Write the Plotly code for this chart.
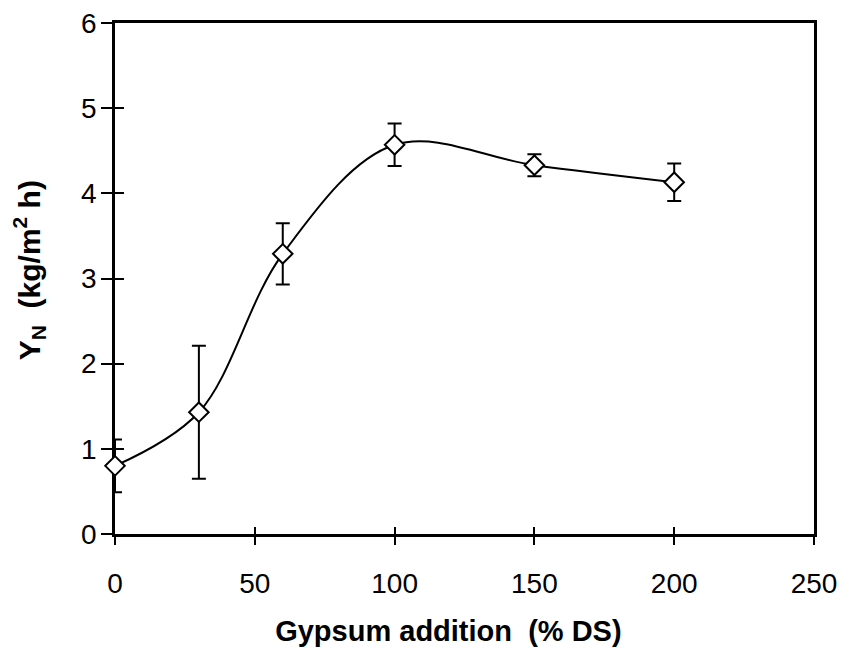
import plotly.graph_objects as go

gypsum = [0, 30, 60, 100, 150, 200]
yn = [0.80, 1.43, 3.29, 4.57, 4.33, 4.13]
yn_err = [0.31, 0.78, 0.36, 0.25, 0.13, 0.22]

x_ticks = [0, 50, 100, 150, 200, 250]
y_ticks = [0, 1, 2, 3, 4, 5, 6]

FONT = "Liberation Sans, Arial, sans-serif"
NB = "\u00a0"

fig = go.Figure()

fig.add_trace(go.Scatter(
    x=gypsum, y=yn,
    mode="lines+markers",
    line=dict(color="black", width=2, shape="spline", smoothing=1),
    marker=dict(symbol="diamond", size=15, color="white",
                line=dict(color="black", width=2)),
    error_y=dict(type="data", array=yn_err, visible=True,
                 color="black", thickness=2, width=7),
    cliponaxis=False,
    showlegend=False,
    hoverinfo="x+y",
))

# invisible trace creating an overlay subplot for the inner half of the crossing ticks
fig.add_trace(go.Scatter(
    x=gypsum, y=yn, xaxis="x2", yaxis="y2",
    mode="markers", marker=dict(opacity=0),
    showlegend=False, hoverinfo="skip",
))

axis_common = dict(showgrid=False, zeroline=False)

fig.update_layout(
    width=838, height=646,
    margin=dict(l=107, r=32, t=15, b=120, autoexpand=False),
    paper_bgcolor="white", plot_bgcolor="white",
    font=dict(family=FONT, color="black", size=28),
    xaxis=dict(
        range=[0, 250], tickvals=x_ticks, ticktext=[str(v) for v in x_ticks],
        ticks="outside", ticklen=8, tickwidth=1.5, tickcolor="black",
        ticklabelstandoff=15, ticklabeloverflow="allow",
        showline=True, linecolor="black", linewidth=2.5, mirror=True,
        layer="below traces",
        tickfont=dict(size=28, family=FONT),
        title=dict(text="<b>Gypsum addition  (% DS)" + NB * 4 + "</b>",
                   font=dict(size=29, family=FONT), standoff=23),
        **axis_common,
    ),
    yaxis=dict(
        range=[0, 6], tickvals=y_ticks, ticktext=[str(v) for v in y_ticks],
        ticks="outside", ticklen=11, tickwidth=1.5, tickcolor="black",
        ticklabelstandoff=-1, ticklabeloverflow="allow",
        showline=True, linecolor="black", linewidth=2.5, mirror=True,
        layer="below traces",
        tickfont=dict(size=28, family=FONT),
        title=dict(text="<b>" + NB * 2 + "Y<sub>N</sub>  (kg/m<sup>2</sup> h)</b>",
                   font=dict(size=30, family=FONT), standoff=33),
        **axis_common,
    ),
    xaxis2=dict(
        range=[0, 250], tickvals=x_ticks, overlaying="x", anchor="y2", side="bottom",
        ticks="inside", ticklen=7, tickwidth=1.5, tickcolor="black",
        showticklabels=False, showline=False, **axis_common,
    ),
    yaxis2=dict(
        range=[0, 6], tickvals=y_ticks, overlaying="y", anchor="x2", side="left",
        ticks="inside", ticklen=9, tickwidth=1.5, tickcolor="black",
        showticklabels=False, showline=False, **axis_common,
    ),
)

fig.write_html("out.html")
